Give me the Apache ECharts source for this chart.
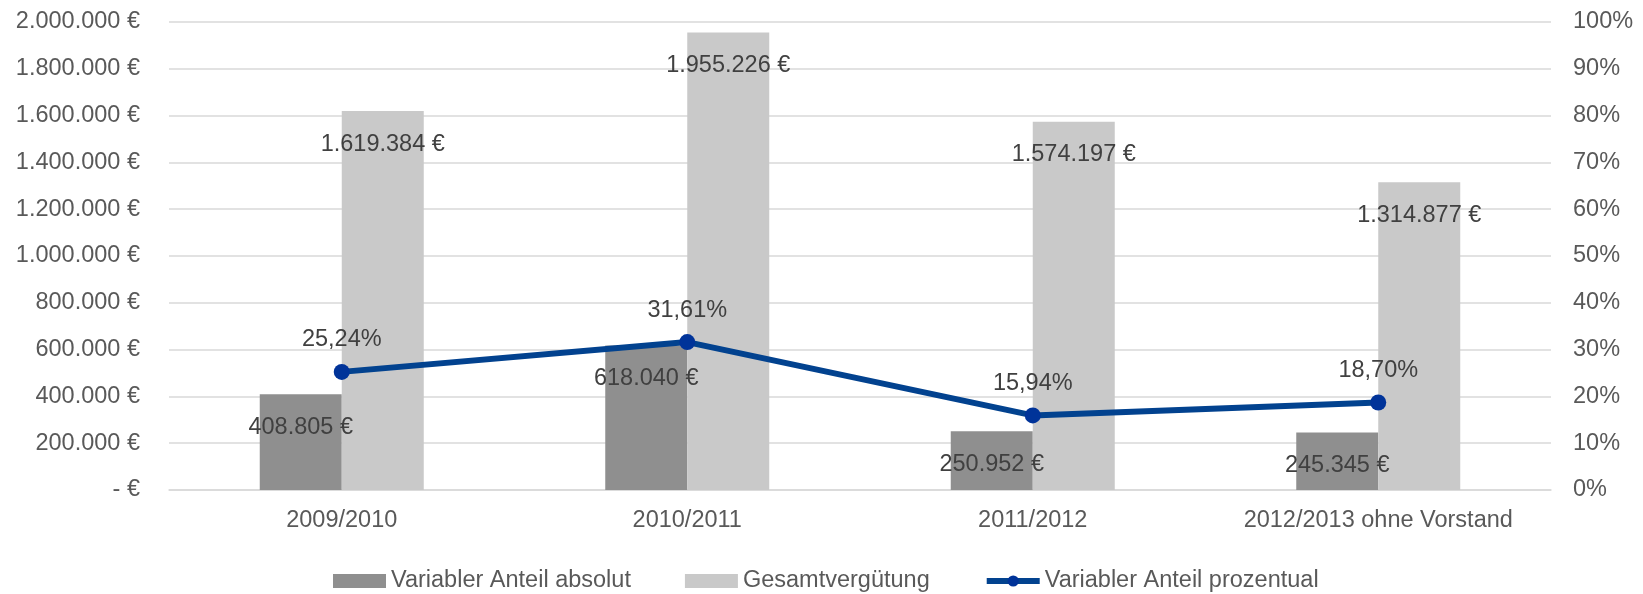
<!DOCTYPE html>
<html>
<head>
<meta charset="utf-8">
<script src="https://cdn.jsdelivr.net/npm/echarts@6/dist/echarts.min.js"></script>
<style>
  html, body { margin: 0; padding: 0; background: #fff; }
  #chart { width: 1643px; height: 594px; }
</style>
</head>
<body>
<div id="chart"></div>
<script>
// Kategorien und Werte
var categories = ['2009/2010', '2010/2011', '2011/2012', '2012/2013 ohne Vorstand'];
var variablerAbsolut = [408805, 618040, 250952, 245345];
var gesamtVerguetung = [1619384, 1955226, 1574197, 1314877];
var variablerProzent = [25.24, 31.61, 15.94, 18.70];
var legendNames = ['Variabler Anteil absolut', 'Gesamtvergütung', 'Variabler Anteil prozentual'];

var FONT = '"Liberation Sans", Arial, sans-serif';
var FS = 23.5;

// 1619384 -> "1.619.384 €"
function euro(v) {
    if (v === 0) return '- €';
    return String(Math.round(v)).replace(/\B(?=(\d{3})+(?!\d))/g, '.') + ' €';
}
function prozent(v) {
    return v.toFixed(2).replace('.', ',') + '%';
}

var chart = echarts.init(document.getElementById('chart'));

var barLabel = {
    show: true,
    position: 'insideTop',
    distance: 21,
    color: '#404040',
    fontFamily: FONT,
    fontSize: FS,
    formatter: function (p) { return euro(p.value); }
};

var option = {
    animation: false,
    backgroundColor: '#ffffff',
    textStyle: { fontFamily: FONT },
    grid: { left: 169, right: 92, top: 22, bottom: 104 },
    legend: {
        data: [
            { name: legendNames[0], icon: 'rect' },
            { name: legendNames[1], icon: 'rect' },
            { name: legendNames[2] }
        ],
        left: 328,
        top: 564,
        itemWidth: 53,
        itemHeight: 14,
        itemGap: 54,
        lineStyle: { width: 6 },
        textStyle: { color: '#595959', fontFamily: FONT, fontSize: FS }
    },
    xAxis: {
        type: 'category',
        data: categories,
        axisLine: { show: true, lineStyle: { color: '#d9d9d9', width: 1.5 } },
        axisTick: { show: false },
        axisLabel: { color: '#595959', fontFamily: FONT, fontSize: FS, margin: 19, interval: 0 }
    },
    yAxis: [
        {
            type: 'value',
            min: 0,
            max: 2000000,
            interval: 200000,
            axisLine: { show: false },
            axisTick: { show: false },
            splitLine: { lineStyle: { color: '#d9d9d9', width: 1.5 } },
            axisLabel: {
                color: '#595959', fontFamily: FONT, fontSize: FS, margin: 29,
                formatter: euro
            }
        },
        {
            type: 'value',
            min: 0,
            max: 100,
            interval: 10,
            axisLine: { show: false },
            axisTick: { show: false },
            splitLine: { show: false },
            axisLabel: {
                color: '#595959', fontFamily: FONT, fontSize: FS, margin: 22,
                formatter: '{value}%'
            }
        }
    ],
    series: [
        {
            name: legendNames[0],
            type: 'bar',
            data: variablerAbsolut,
            barWidth: 82,
            barGap: '0%',
            itemStyle: { color: '#8f8f8f' },
            label: barLabel
        },
        {
            name: legendNames[1],
            type: 'bar',
            data: gesamtVerguetung,
            barWidth: 82,
            barGap: '0%',
            itemStyle: { color: '#c9c9c9' },
            label: barLabel
        },
        {
            name: legendNames[2],
            type: 'line',
            yAxisIndex: 1,
            data: variablerProzent,
            symbol: 'circle',
            symbolSize: 16,
            lineStyle: { color: '#02428f', width: 6 },
            itemStyle: { color: '#003399' },
            z: 5,
            label: {
                show: true,
                position: 'top',
                distance: 12,
                color: '#404040',
                fontFamily: FONT,
                fontSize: FS,
                formatter: function (p) { return prozent(p.value); }
            }
        }
    ]
};

chart.setOption(option);
</script>
</body>
</html>
